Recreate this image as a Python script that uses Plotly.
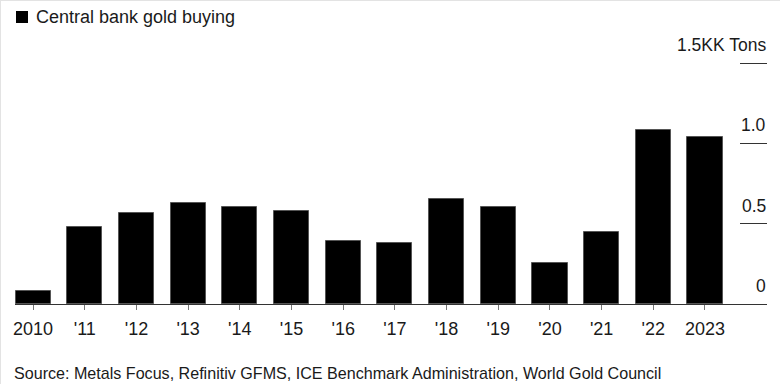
import plotly.graph_objects as go

years = list(range(2010, 2024))
tons_k = [0.079, 0.481, 0.569, 0.629, 0.601, 0.580, 0.395, 0.379, 0.656, 0.605, 0.255, 0.450, 1.082, 1.037]
tick_text = ["2010", "'11", "'12", "'13", "'14", "'15", "'16", "'17", "'18", "'19", "'20", "'21", "'22", "2023"]
y_ticks = [0, 0.5, 1.0, 1.5]
y_labels = ["0", "0.5", "1.0", "1.5KK Tons"]

FONT = "Liberation Sans, Arial, sans-serif"
TXT = "#1a1a1a"
W, H = 780, 384
L, R, T, B = 15, 13, 60, 80
PW, PH = W - L - R, H - T - B


def px_x(x):
    return (x - L) / PW


def px_y(y):
    return (H - B - y) / PH


fig = go.Figure()
fig.add_trace(go.Bar(
    x=years, y=tons_k, width=0.68,
    marker=dict(color="#000000", line=dict(color="#555555", width=1)),
    showlegend=False, hoverinfo="skip",
))

fig.update_layout(
    width=W, height=H,
    margin=dict(l=L, r=R, t=T, b=B),
    paper_bgcolor="white", plot_bgcolor="white",
    font=dict(family=FONT, color=TXT, size=18),
    bargap=0,
    xaxis=dict(
        range=[2009.65, 2024.2], tickvals=years, ticktext=tick_text,
        showline=True, linecolor="#333333", linewidth=1,
        ticks="outside", ticklen=5, tickcolor="#777777", tickwidth=1,
        ticklabelstandoff=3,
        showgrid=False, zeroline=False, tickfont=dict(size=18, color=TXT),
        fixedrange=True,
    ),
    yaxis=dict(
        range=[0, 1.5187], side="right", tickvals=y_ticks,
        showticklabels=False, ticks="inside", ticklen=27,
        tickcolor="#333333", tickwidth=1.2,
        showgrid=False, zeroline=False, showline=False, fixedrange=True,
    ),
)

for v, lab in zip(y_ticks, y_labels):
    fig.add_annotation(
        x=1, xref="paper", y=v, yref="y", text=lab, showarrow=False,
        xanchor="right", yanchor="bottom", yshift=6, xshift=1,
        font=dict(size=17.5, color=TXT, family=FONT),
    )

# legend swatch
fig.add_shape(type="rect", xref="paper", yref="paper",
              x0=px_x(16), x1=px_x(28), y0=px_y(23), y1=px_y(11),
              fillcolor="#000000", line=dict(width=0))
fig.add_annotation(
    x=px_x(34), xref="paper", y=px_y(17), yref="paper", yanchor="middle", xanchor="left",
    text="Central bank gold buying", showarrow=False,
    font=dict(size=18, color=TXT, family=FONT),
)
fig.add_annotation(
    x=px_x(12), xref="paper", y=px_y(373), yref="paper", yanchor="middle", xanchor="left",
    text="Source: Metals Focus, Refinitiv GFMS, ICE Benchmark Administration, World Gold Council",
    showarrow=False, font=dict(size=16.1, color=TXT, family=FONT),
)
# thin frame lines at left and top edges
fig.add_shape(type="line", xref="paper", yref="paper", x0=px_x(0.5), x1=px_x(0.5), y0=px_y(0), y1=px_y(H),
              line=dict(color="#e3e3e3", width=1))
fig.add_shape(type="line", xref="paper", yref="paper", x0=px_x(0), x1=px_x(W), y0=px_y(0.5), y1=px_y(0.5),
              line=dict(color="#e3e3e3", width=1))

fig.write_html("out.html", config={"displayModeBar": False},
               post_script="document.body.style.margin='0';document.body.style.overflow='hidden';")
